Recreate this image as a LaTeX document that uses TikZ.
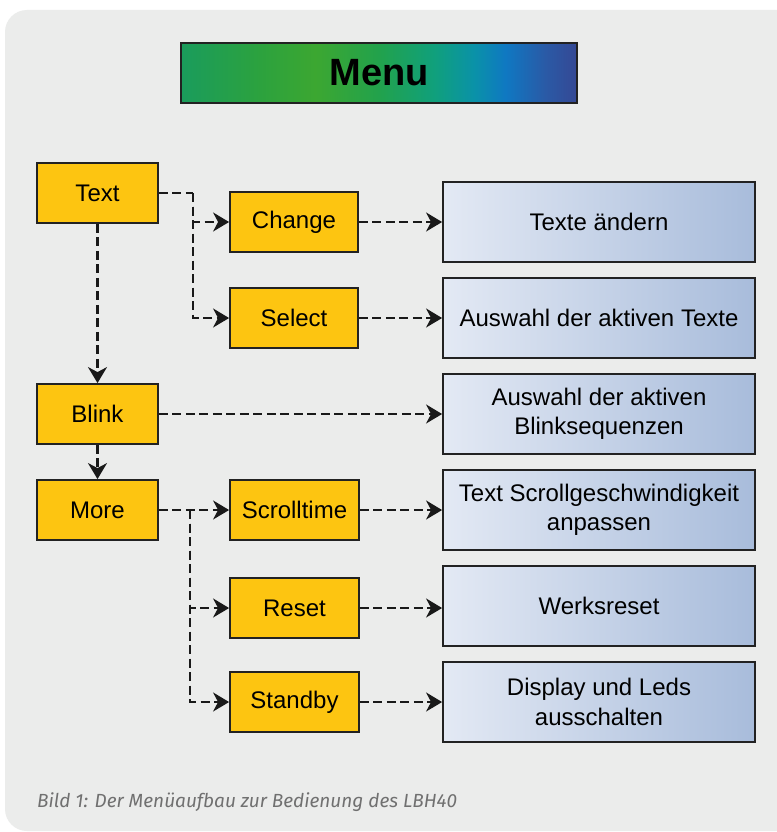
\documentclass[tikz,border=0pt]{standalone}
\usepackage{fontspec}
\setmainfont{Liberation Sans}
\newfontfamily\capfont{Fira Sans}
\usetikzlibrary{arrows.meta,positioning,calc}
\definecolor{panelbg}{HTML}{EBECEB}
\definecolor{boxyellow}{HTML}{FDC511}
\definecolor{boxline}{HTML}{222222}
\definecolor{descL}{HTML}{E3E9F4}
\definecolor{descR}{HTML}{A8BCDB}
\definecolor{capgray}{HTML}{707070}
\definecolor{mA}{HTML}{1A9C5C}
\definecolor{mB}{HTML}{2CA23E}
\definecolor{mC}{HTML}{3CA731}
\definecolor{mD}{HTML}{22A24C}
\definecolor{mE}{HTML}{10A07C}
\definecolor{mF}{HTML}{0A92A8}
\definecolor{mG}{HTML}{0F78C2}
\definecolor{mH}{HTML}{2A5AA6}
\definecolor{mI}{HTML}{354894}
\pgfdeclarehorizontalshading{menushade}{100bp}{color(0bp)=(mA); color(25bp)=(mA); color(35bp)=(mB); color(42bp)=(mC); color(50bp)=(mD); color(57bp)=(mE); color(62bp)=(mF); color(66bp)=(mG); color(71bp)=(mH); color(75bp)=(mI); color(100bp)=(mI)}
\tikzset{
  menubox/.style={draw=boxline, line width=1.8pt, shading=menushade, minimum width=396pt, minimum height=60pt, inner sep=0pt, font=\fontsize{38}{40}\selectfont\bfseries},
  ybox/.style={draw=boxline, line width=1.8pt, fill=boxyellow, minimum width=121pt, minimum height=60pt, inner sep=0pt, font=\fontsize{24}{28}\selectfont},
  sbox/.style={ybox, minimum width=128pt},
  dbox/.style={draw=boxline, line width=1.8pt, left color=descL, right color=descR, minimum width=312pt, minimum height=80pt, inner sep=0pt, align=center, font=\fontsize{24}{29.5}\selectfont},
  conn/.style={draw=black!90, line width=2.4pt, dash pattern=on 9pt off 4.5pt, -{Stealth[length=16pt,width=19pt,inset=5pt]}},
  seg/.style={draw=black!90, line width=2.4pt, dash pattern=on 9pt off 4.5pt},
}
\begin{document}
\begin{tikzpicture}[x=1pt,y=-1pt]
\useasboundingbox (0,0) rectangle (776,832);
\fill[white] (0,0) rectangle (776,832);
\fill[panelbg, rounded corners=22pt] (5,10) rectangle (800,831);
\node[menubox] (menu) at (379,73) {Menu};
\node[ybox] (text) at (97.5,193) {Text};
\node[sbox] (change) at (294,222) {Change};
\node[sbox] (select) at (294,318) {Select};
\node[ybox] (blink) at (97.5,414) {Blink};
\node[ybox] (more) at (97.5,510) {More};
\node[sbox, minimum width=129pt] (scroll) at (294.5,510) {Scrolltime};
\node[sbox, minimum width=129pt] (reset) at (294.5,608) {Reset};
\node[sbox, minimum width=129pt] (standby) at (294.5,702) {Standby};
\node[dbox] (d1) at (599,222) {Texte ändern};
\node[dbox] (d2) at (599,318) {Auswahl der aktiven Texte};
\node[dbox] (d3) at (599,414) {Auswahl der aktiven\\Blinksequenzen};
\node[dbox] (d4) at (599,510) {Text Scrollgeschwindigkeit\\anpassen};
\node[dbox] (d5) at (599,606) {Werksreset};
\node[dbox] (d6) at (599,702) {Display und Leds\\ausschalten};
\coordinate (j1) at (193,193);
\coordinate (j2) at (190,510);
\draw[seg] (text.east) -- (j1);
\draw[conn] (j1) |- (change.west);
\draw[conn] (j1) |- (select.west);
\draw[conn] (text.south) -- (blink.north);
\draw[conn] (blink.south) -- (more.north);
\draw[conn] (blink.east) -- (d3.west);
\draw[conn] (more.east) -- (scroll.west);
\draw[conn] (j2) |- (reset.west);
\draw[conn] (j2) |- (standby.west);
\draw[conn] (change.east) -- (d1.west);
\draw[conn] (select.east) -- (d2.west);
\draw[conn] (scroll.east) -- (d4.west);
\draw[conn] (reset.east) -- (d5.west |- reset.east);
\draw[conn] (standby.east) -- (d6.west);
\node[anchor=west, text=capgray, font=\capfont\itshape\fontsize{19}{22}\selectfont, inner sep=0pt] (cap) at (37,802) {Bild 1: Der Menüaufbau zur Bedienung des LBH40};
\end{tikzpicture}
\end{document}
